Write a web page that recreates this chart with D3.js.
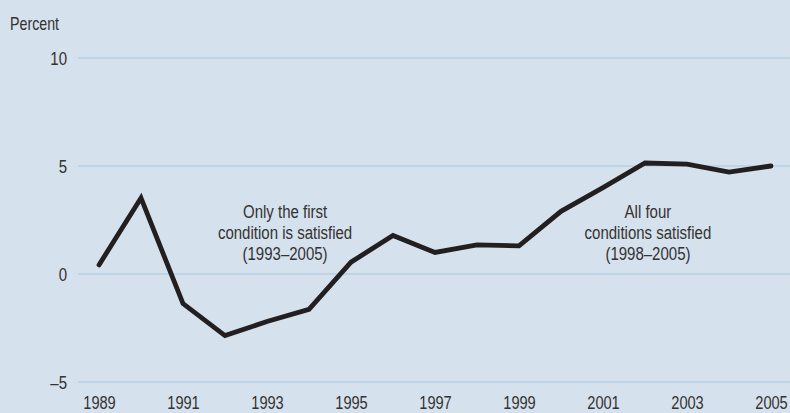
<!DOCTYPE html>
<html>
<head>
<meta charset="utf-8">
<script src="https://cdn.jsdelivr.net/npm/d3@7"></script>
<style>
  body { margin: 0; background: #d5e1ec; }
  text { font-family: "Liberation Sans", Arial, sans-serif; fill: #333; }
</style>
</head>
<body>
<script>
// data
var years = [1989, 1990, 1991, 1992, 1993, 1994, 1995, 1996, 1997, 1998, 1999, 2000, 2001, 2002, 2003, 2004, 2005];
var values = [0.42, 3.52, -1.37, -2.85, -2.2, -1.64, 0.55, 1.78, 1.0, 1.35, 1.3, 2.9, 4.0, 5.14, 5.09, 4.72, 5.0];
var yTicks = [-5, 0, 5, 10];
var xTicks = [1989, 1991, 1993, 1995, 1997, 1999, 2001, 2003, 2005];
var notes = [
  { x: 1993.43, y: 2.59, lines: ["Only the first", "condition is satisfied", "(1993\u20132005)"] },
  { x: 2002.07, y: 2.59, lines: ["All four", "conditions satisfied", "(1998\u20132005)"] }
];

var w = 790;
var h = 413;
var squeeze = "scale(0.79,1)"; // fake a condensed face

var svg = d3.select("body")
  .append("svg")
  .attr("width", w)
  .attr("height", h)

svg.append("rect")
  .attr("width", w)
  .attr("height", h)
  .attr("fill", "#d5e1ec");

var xScale = d3.scaleLinear()
  .domain([1989, 2005])
  .range([99, 771]);

var yScale = d3.scaleLinear()
  .domain([-5, 10])
  .range([382, 58]);

// gridlines
svg.selectAll(".grid")
  .data(yTicks)
  .enter()
  .append("line")
  .attr("class", "grid")
  .attr("x1", 78)
  .attr("x2", w)
  .attr("y1", d => yScale(d))
  .attr("y2", d => yScale(d))
  .attr("stroke", "#a9c8e2")
  .attr("stroke-width", 1.2);

var yAxis = d3.axisLeft(yScale)
  .tickValues(yTicks)
  .tickSize(0)
  .tickPadding(0)
  .tickFormat(d => d < 0 ? "\u2013" + Math.abs(d) : d);

var yAxisGroup = svg.append("g")
  .call(yAxis)
  .attr("transform", "translate(67, 0)");
yAxisGroup.select(".domain").remove();
yAxisGroup.selectAll("text")
  .attr("font-size", 19)
  .attr("font-family", null)
  .attr("fill", "#333")
  .attr("transform", squeeze);

var xAxis = d3.axisBottom(xScale)
  .tickValues(xTicks)
  .tickSize(0)
  .tickPadding(0)
  .tickFormat(d3.format("d"));

var xAxisGroup = svg.append("g")
  .call(xAxis)
  .attr("transform", "translate(0, 396)");
xAxisGroup.select(".domain").remove();
xAxisGroup.selectAll("text")
  .attr("font-size", 18.5)
  .attr("font-family", null)
  .attr("fill", "#333")
  .attr("transform", squeeze);

svg.append("g")
  .attr("transform", "translate(10, 30) " + squeeze)
  .append("text")
  .attr("font-size", 18)
  .text("Percent");

var line = d3.line()
  .x((d, i) => xScale(years[i]))
  .y(d => yScale(d));

svg.append("path")
  .datum(values)
  .attr("d", line)
  .attr("fill", "none")
  .attr("stroke", "#231f20")
  .attr("stroke-width", 4.8)
  .attr("stroke-linejoin", "miter")
  .attr("stroke-linecap", "round");

notes.forEach(function (n) {
  var t = svg.append("g")
    .attr("transform", "translate(" + xScale(n.x) + "," + yScale(n.y) + ") " + squeeze)
    .append("text")
    .attr("text-anchor", "middle")
    .attr("font-size", 19);
  t.selectAll("tspan")
    .data(n.lines)
    .enter()
    .append("tspan")
    .attr("x", 0)
    .attr("dy", (d, i) => i === 0 ? 0 : 21)
    .text(d => d);
});
</script>
</body>
</html>
